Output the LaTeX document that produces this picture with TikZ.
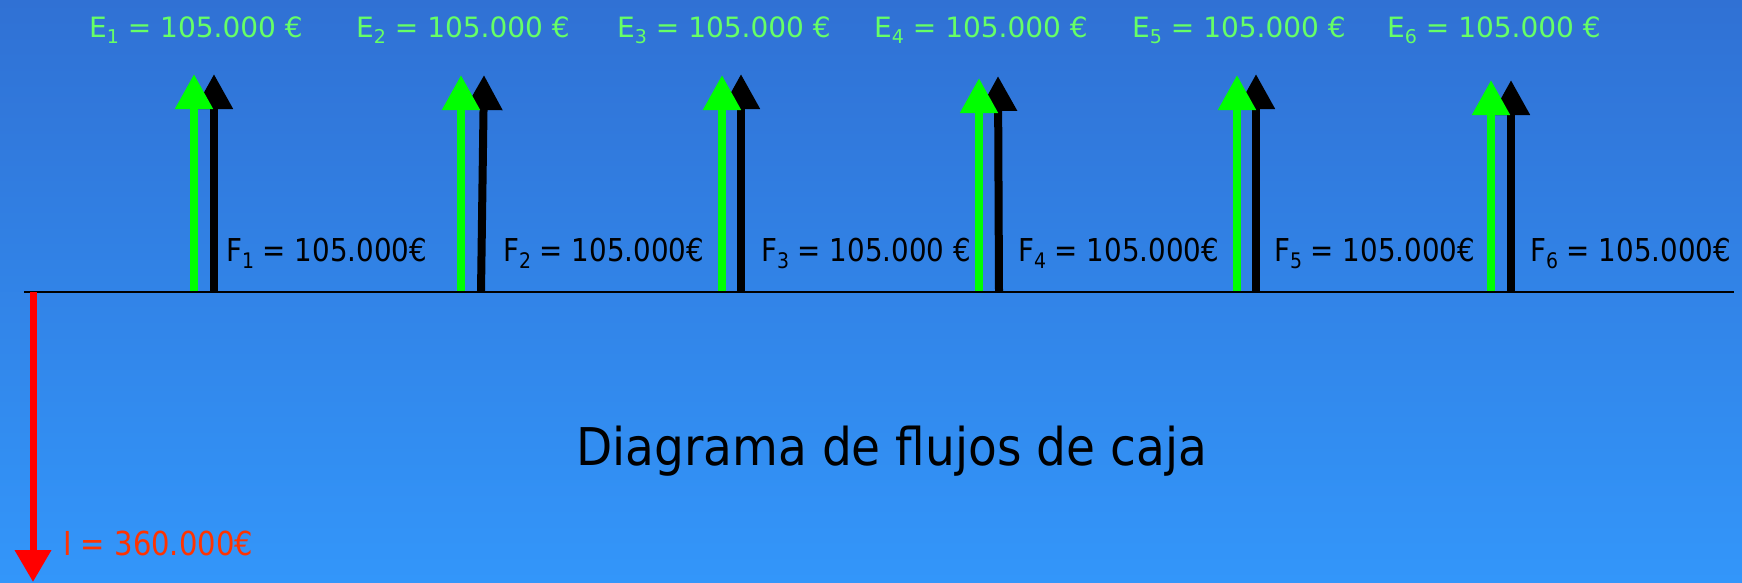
\documentclass[tikz,border=0pt]{standalone}
\usepackage{fontspec}
\setmainfont{DejaVu Sans}[FakeStretch=0.88]
\newfontfamily\widefont{DejaVu Sans}
\newfontfamily\titlefont{DejaVu Sans}[FakeStretch=0.905]
\usetikzlibrary{arrows.meta}
\definecolor{bgtop}{RGB}{48,113,212}
\definecolor{bgbot}{RGB}{51,150,250}
\definecolor{elabel}{RGB}{102,255,102}
\definecolor{ilabel}{RGB}{255,51,0}
\definecolor{garrow}{RGB}{0,255,0}
\newcommand{\lowidx}[1]{\raisebox{-0.24em}{\scalebox{0.68}{#1}}}
\tikzset{
  flowup/.style={line width=8pt, -{Triangle[width=36pt,length=35pt]}},
  greenflow/.style={flowup, draw=garrow},
  blackflow/.style={flowup, draw=black},
  outflow/.style={line width=7pt, draw=red, -{Triangle[width=35pt,length=32pt]}},
  axisline/.style={line width=2pt, draw=black},
  elab/.style={anchor=base west, inner sep=0pt, text=elabel, font=\widefont\fontsize{28}{33}\selectfont},
  flab/.style={anchor=base west, inner sep=0pt, text=black, font=\fontsize{31.5}{36}\selectfont},
  ilab/.style={anchor=base west, inner sep=0pt, text=ilabel, font=\fontsize{33}{38}\selectfont},
  titletext/.style={anchor=base west, inner sep=0pt, text=black, font=\titlefont\fontsize{52}{60}\selectfont}
}
\begin{document}
\begin{tikzpicture}[x=1pt,y=-1pt]
\useasboundingbox (0,0) rectangle (1742,582);
\shade[top color=bgtop, bottom color=bgbot] (0,0) rectangle (1742,582);

% top labels
\node[elab] (e1) at (89,37) {E\lowidx{1} = 105.000 €};
\node[elab] (e2) at (356,37) {E\lowidx{2} = 105.000 €};
\node[elab] (e3) at (617,37) {E\lowidx{3} = 105.000 €};
\node[elab] (e4) at (874,37) {E\lowidx{4} = 105.000 €};
\node[elab] (e5) at (1132,37) {E\lowidx{5} = 105.000 €};
\node[elab] (e6) at (1387,37) {E\lowidx{6} = 105.000 €};

% coordinates of arrows
\coordinate (bb1) at (214,292); \coordinate (bt1) at (214,74);
\coordinate (gb1) at (194,292); \coordinate (gt1) at (194,74);
\coordinate (bb2) at (481,292); \coordinate (bt2) at (484,75);
\coordinate (gb2) at (461,292); \coordinate (gt2) at (461,75);
\coordinate (bb3) at (741,292); \coordinate (bt3) at (741,74);
\coordinate (gb3) at (722,292); \coordinate (gt3) at (722,75);
\coordinate (bb4) at (999,292); \coordinate (bt4) at (998,76);
\coordinate (gb4) at (979,292); \coordinate (gt4) at (979,78);
\coordinate (bb5) at (1256,292); \coordinate (bt5) at (1256,74);
\coordinate (gb5) at (1237,292); \coordinate (gt5) at (1237,75);
\coordinate (bb6) at (1511,292); \coordinate (bt6) at (1511,80);
\coordinate (gb6) at (1491,292); \coordinate (gt6) at (1491,80);

\foreach \i in {1,...,6}{
  \draw[blackflow] (bb\i) -- (bt\i);
  \draw[greenflow] (gb\i) -- (gt\i);
}

% axis
\coordinate (axl) at (24,292);
\coordinate (axr) at (1734,292);
\draw[axisline] (axl) -- (axr);

% F labels
\node[flab] (f1) at (226,261) {F\lowidx{1} = 105.000€};
\node[flab] (f2) at (503,261) {F\lowidx{2} = 105.000€};
\node[flab] (f3) at (761,261) {F\lowidx{3} = 105.000 €};
\node[flab] (f4) at (1018,261) {F\lowidx{4} = 105.000€};
\node[flab] (f5) at (1274,261) {F\lowidx{5} = 105.000€};
\node[flab] (f6) at (1530,261) {F\lowidx{6} = 105.000€};

% investment
\coordinate (it) at (33,292);
\coordinate (ib) at (33,582);
\draw[outflow] (it) -- (ib);
\node[ilab] (ilabel) at (63,555) {I = 360.000€};

% title
\node[titletext] (title) at (576,465) {Diagrama de flujos de caja};
\end{tikzpicture}
\end{document}
